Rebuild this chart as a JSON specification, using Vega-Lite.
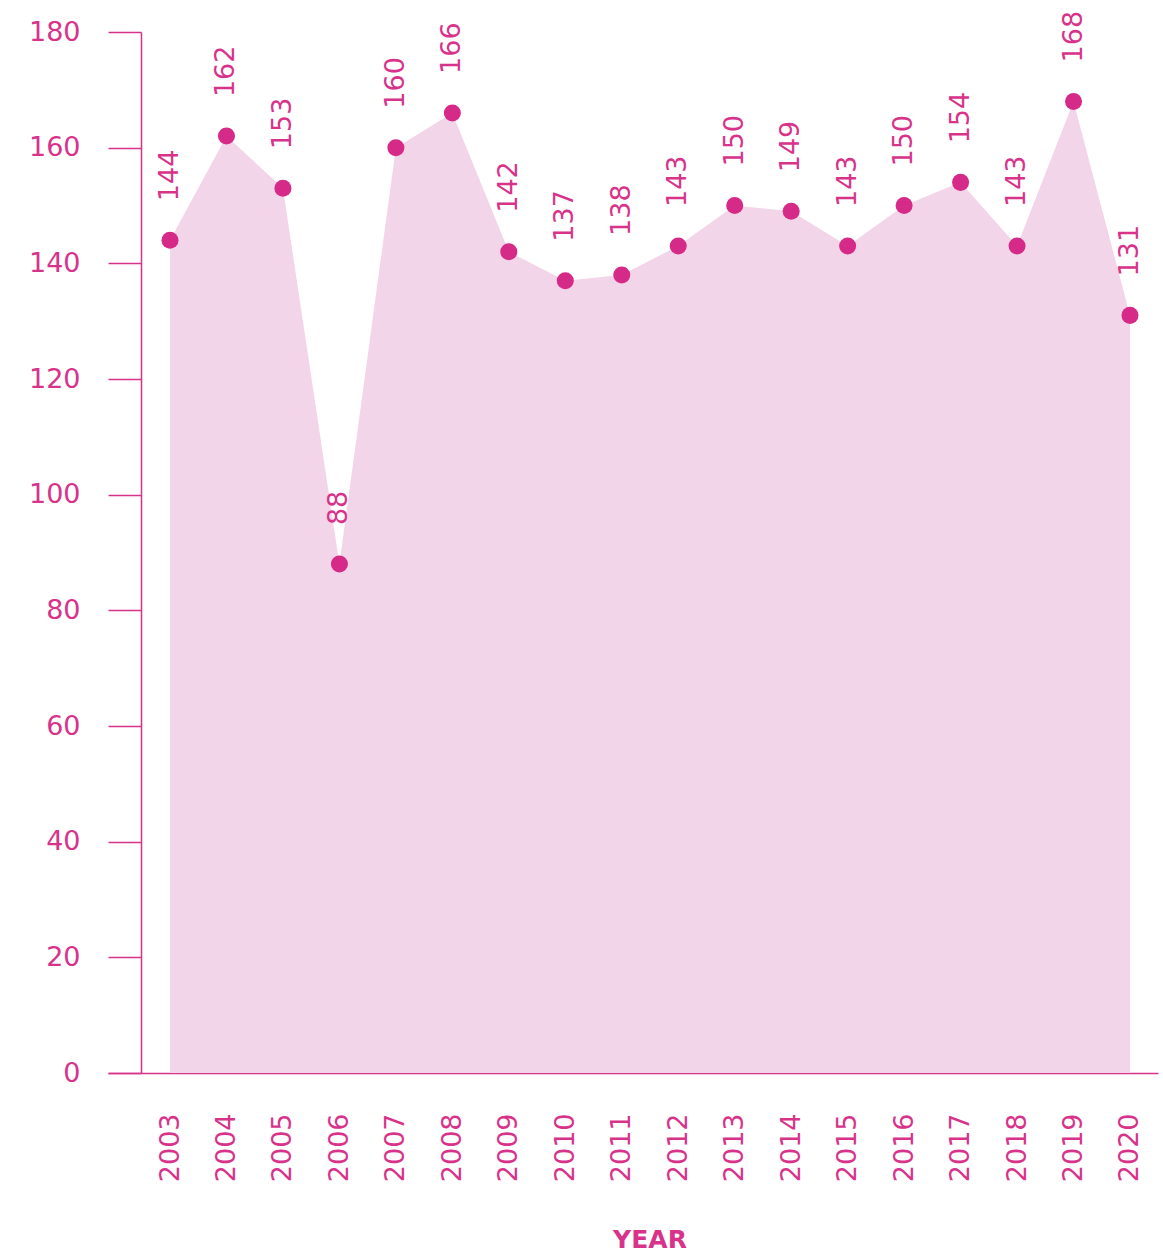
{
  "$schema": "https://vega.github.io/schema/vega-lite/v6.json",
  "autosize": "none",
  "width": 1050,
  "height": 1041,
  "padding": {"left": 108, "top": 32, "right": 5, "bottom": 181},
  "background": "white",
  "config": {"view": {"stroke": null}, "font": "DejaVu Sans"},
  "data": {"values": [
    {"year": 2003, "value": 144},
    {"year": 2004, "value": 162},
    {"year": 2005, "value": 153},
    {"year": 2006, "value": 88},
    {"year": 2007, "value": 160},
    {"year": 2008, "value": 166},
    {"year": 2009, "value": 142},
    {"year": 2010, "value": 137},
    {"year": 2011, "value": 138},
    {"year": 2012, "value": 143},
    {"year": 2013, "value": 150},
    {"year": 2014, "value": 149},
    {"year": 2015, "value": 143},
    {"year": 2016, "value": 150},
    {"year": 2017, "value": 154},
    {"year": 2018, "value": 143},
    {"year": 2019, "value": 168},
    {"year": 2020, "value": 131}
  ]},
  "encoding": {
    "x": {"field": "year", "type": "quantitative",
      "scale": {"domain": [2001.902, 2020.496], "nice": false, "zero": false},
      "axis": {
        "values": [2003,2004,2005,2006,2007,2008,2009,2010,2011,2012,2013,2014,2015,2016,2017,2018,2019,2020],
        "format": "d", "grid": false, "ticks": false,
        "domainColor": "#d8338b", "domainWidth": 1.5,
        "labelAngle": 270, "labelAlign": "right", "labelBaseline": "middle",
        "labelPadding": 40, "labelFontSize": 27, "labelColor": "#d8338b",
        "labelFontWeight": "normal",
        "title": "YEAR", "titleFontSize": 25, "titleFontWeight": "bold",
        "titleColor": "#d8338b", "titlePadding": 46, "titleX": 541.5, "titleAnchor": "middle"
      }
    },
    "y": {"field": "value", "type": "quantitative",
      "scale": {"domain": [0, 180], "nice": false},
      "axis": {
        "values": [0,20,40,60,80,100,120,140,160,180],
        "grid": false, "offset": -33,
        "domainColor": "#d8338b", "domainWidth": 1.5,
        "tickColor": "#d8338b", "tickSize": 33, "tickWidth": 1.5,
        "labelPadding": 28, "labelFontSize": 27, "labelColor": "#d8338b",
        "title": null
      }
    }
  },
  "layer": [
    {"mark": {"type": "area", "color": "#f3d5e9", "opacity": 1}},
    {"mark": {"type": "point", "filled": true, "size": 290, "color": "#d62a88", "opacity": 1}},
    {"mark": {"type": "text", "angle": 270, "align": "left", "baseline": "middle", "dx": 39, "fontSize": 27, "color": "#d8338b"},
     "encoding": {"text": {"field": "value", "type": "quantitative"}}}
  ]
}
